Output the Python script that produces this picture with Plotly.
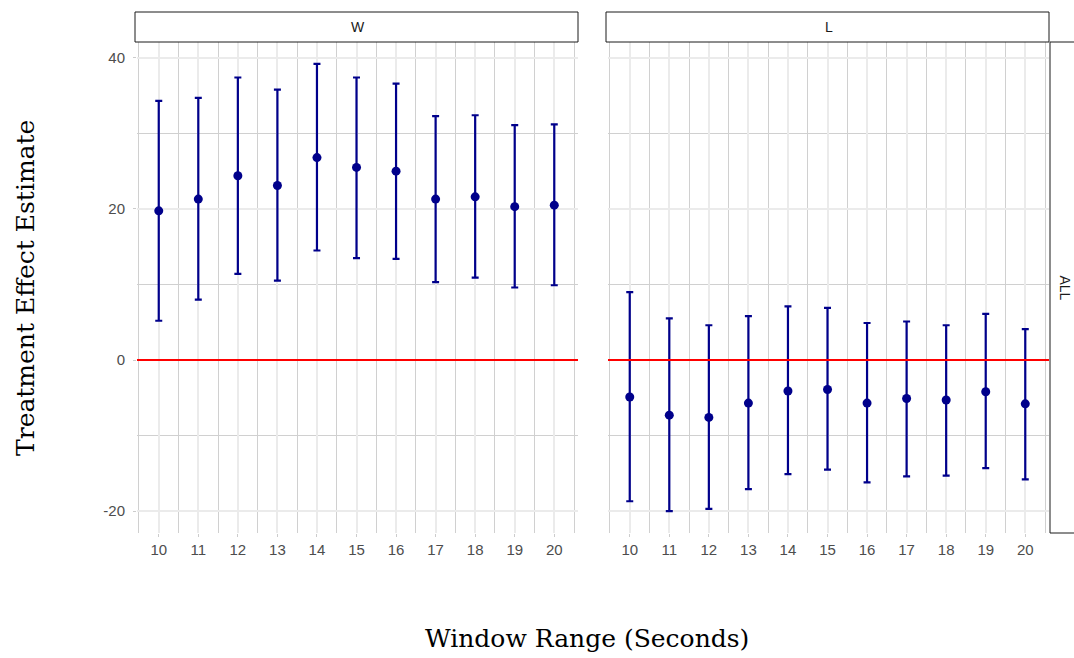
import plotly.graph_objects as go

# Window lengths (seconds) on the x axis
windows = [10, 11, 12, 13, 14, 15, 16, 17, 18, 19, 20]

# Facet "W": point estimates and confidence bounds
w_est = [19.75, 21.3, 24.4, 23.1, 26.8, 25.5, 25.0, 21.3, 21.6, 20.3, 20.5]
w_low = [5.2, 8.0, 11.4, 10.5, 14.5, 13.5, 13.4, 10.3, 10.9, 9.6, 9.9]
w_high = [34.3, 34.7, 37.4, 35.8, 39.2, 37.4, 36.6, 32.3, 32.4, 31.1, 31.2]

# Facet "L": point estimates and confidence bounds
l_est = [-4.9, -7.3, -7.6, -5.7, -4.1, -3.9, -5.7, -5.1, -5.3, -4.2, -5.8]
l_low = [-18.7, -20.0, -19.7, -17.1, -15.1, -14.5, -16.2, -15.4, -15.3, -14.3, -15.8]
l_high = [9.0, 5.5, 4.6, 5.8, 7.1, 6.9, 4.9, 5.1, 4.6, 6.1, 4.1]

facets = ["W", "L"]
row_label = "ALL"
y_ticks = [-20, 0, 20, 40]
y_tick_text = ["-20", "0", "20", "40"]

W, H = 1074, 658
panel_top, panel_bottom = 42, 533
panels_px = [(137, 578), (608, 1049)]
strip_top = 12

def fx(px):
    return px / W

def fy(py):
    return 1 - py / H

POINT = "#00008B"
TICK_FONT = dict(family="Liberation Sans", size=15, color="#4d4d4d")
fig = go.Figure()

series = [(w_est, w_low, w_high), (l_est, l_low, l_high)]
for i, (est, low, high) in enumerate(series):
    xa = "x" if i == 0 else "x2"
    ya = "y" if i == 0 else "y2"
    fig.add_trace(go.Scatter(
        x=windows, y=est, mode="markers",
        marker=dict(color=POINT, size=9),
        error_y=dict(type="data", symmetric=False,
                     array=[h - e for h, e in zip(high, est)],
                     arrayminus=[e - l for e, l in zip(est, low)],
                     color=POINT, thickness=2.2, width=3.5),
        xaxis=xa, yaxis=ya, showlegend=False, hoverinfo="skip"))

yrange = [-22.9, 42.1]
xrange = [9.45, 20.6]

common_x = dict(range=xrange, tickvals=windows, ticktext=[str(v) for v in windows],
                showgrid=True, gridcolor="#ebebeb", gridwidth=2.2,
                minor=dict(dtick=1, tick0=9.5, showgrid=True, gridcolor="#d0d0d0", gridwidth=1.2),
                zeroline=False, showline=False, ticks="outside", ticklen=3,
                tickcolor="#cccccc", tickfont=TICK_FONT)
common_y = dict(range=yrange, tickvals=y_ticks, ticktext=y_tick_text,
                showgrid=True, gridcolor="#ebebeb", gridwidth=2.2,
                minor=dict(dtick=10, tick0=-10, showgrid=True, gridcolor="#d0d0d0", gridwidth=1.2),
                zeroline=False, showline=False, ticks="outside", ticklen=3, tickcolor="#cccccc",
                domain=[fy(panel_bottom), fy(panel_top)])

fig.update_layout(
    width=W, height=H, margin=dict(l=0, r=0, t=0, b=0),
    paper_bgcolor="white", plot_bgcolor="white",
    xaxis=dict(common_x, domain=[fx(panels_px[0][0]), fx(panels_px[0][1])], anchor="y"),
    xaxis2=dict(common_x, domain=[fx(panels_px[1][0]), fx(panels_px[1][1])], anchor="y2"),
    yaxis=dict(common_y, anchor="x", tickfont=TICK_FONT, ticklabelstandoff=5),
    yaxis2=dict(common_y, anchor="x2", showticklabels=False, ticks=""),
)

shapes = []
annotations = []
for i, (x0, x1) in enumerate(panels_px):
    xref = "x" if i == 0 else "x2"
    yref = "y" if i == 0 else "y2"
    # zero reference line
    shapes.append(dict(type="line", xref=f"{xref} domain", yref=yref, x0=0, x1=1, y0=0, y1=0,
                       line=dict(color="red", width=2), layer="above"))
    # facet strip
    shapes.append(dict(type="rect", xref="paper", yref="paper",
                       x0=fx(x0 - 2), x1=fx(x1), y0=fy(panel_top), y1=fy(strip_top),
                       line=dict(color="#1a1a1a", width=1), fillcolor="white"))
    annotations.append(dict(text=facets[i], xref="paper", yref="paper",
                            x=fx((x0 + x1) / 2), y=fy((strip_top + panel_top) / 2),
                            xanchor="center", yanchor="middle",
                            showarrow=False, font=dict(family="Liberation Sans", size=14, color="#1a1a1a")))

# row strip on the right
shapes.append(dict(type="rect", xref="paper", yref="paper",
                   x0=fx(1050), x1=fx(1090), y0=fy(panel_bottom), y1=fy(panel_top),
                   line=dict(color="#1a1a1a", width=1), fillcolor="white"))
annotations.append(dict(text=row_label, xref="paper", yref="paper",
                        x=fx(1065), y=fy((panel_top + panel_bottom) / 2), textangle=90,
                        xanchor="center", yanchor="middle",
                        showarrow=False, font=dict(family="Liberation Sans", size=14, color="#1a1a1a")))

# axis titles
annotations.append(dict(text="Window Range (Seconds)", xref="paper", yref="paper",
                        x=fx(587), y=fy(638), xanchor="center", yanchor="middle", showarrow=False,
                        font=dict(family="DejaVu Serif", size=25, color="black")))
annotations.append(dict(text="Treatment Effect Estimate", xref="paper", yref="paper",
                        x=fx(25), y=fy(288), textangle=-90, xanchor="center", yanchor="middle",
                        showarrow=False,
                        font=dict(family="DejaVu Serif", size=25, color="black")))

fig.update_layout(shapes=shapes, annotations=annotations)
fig.write_html("out.html")
